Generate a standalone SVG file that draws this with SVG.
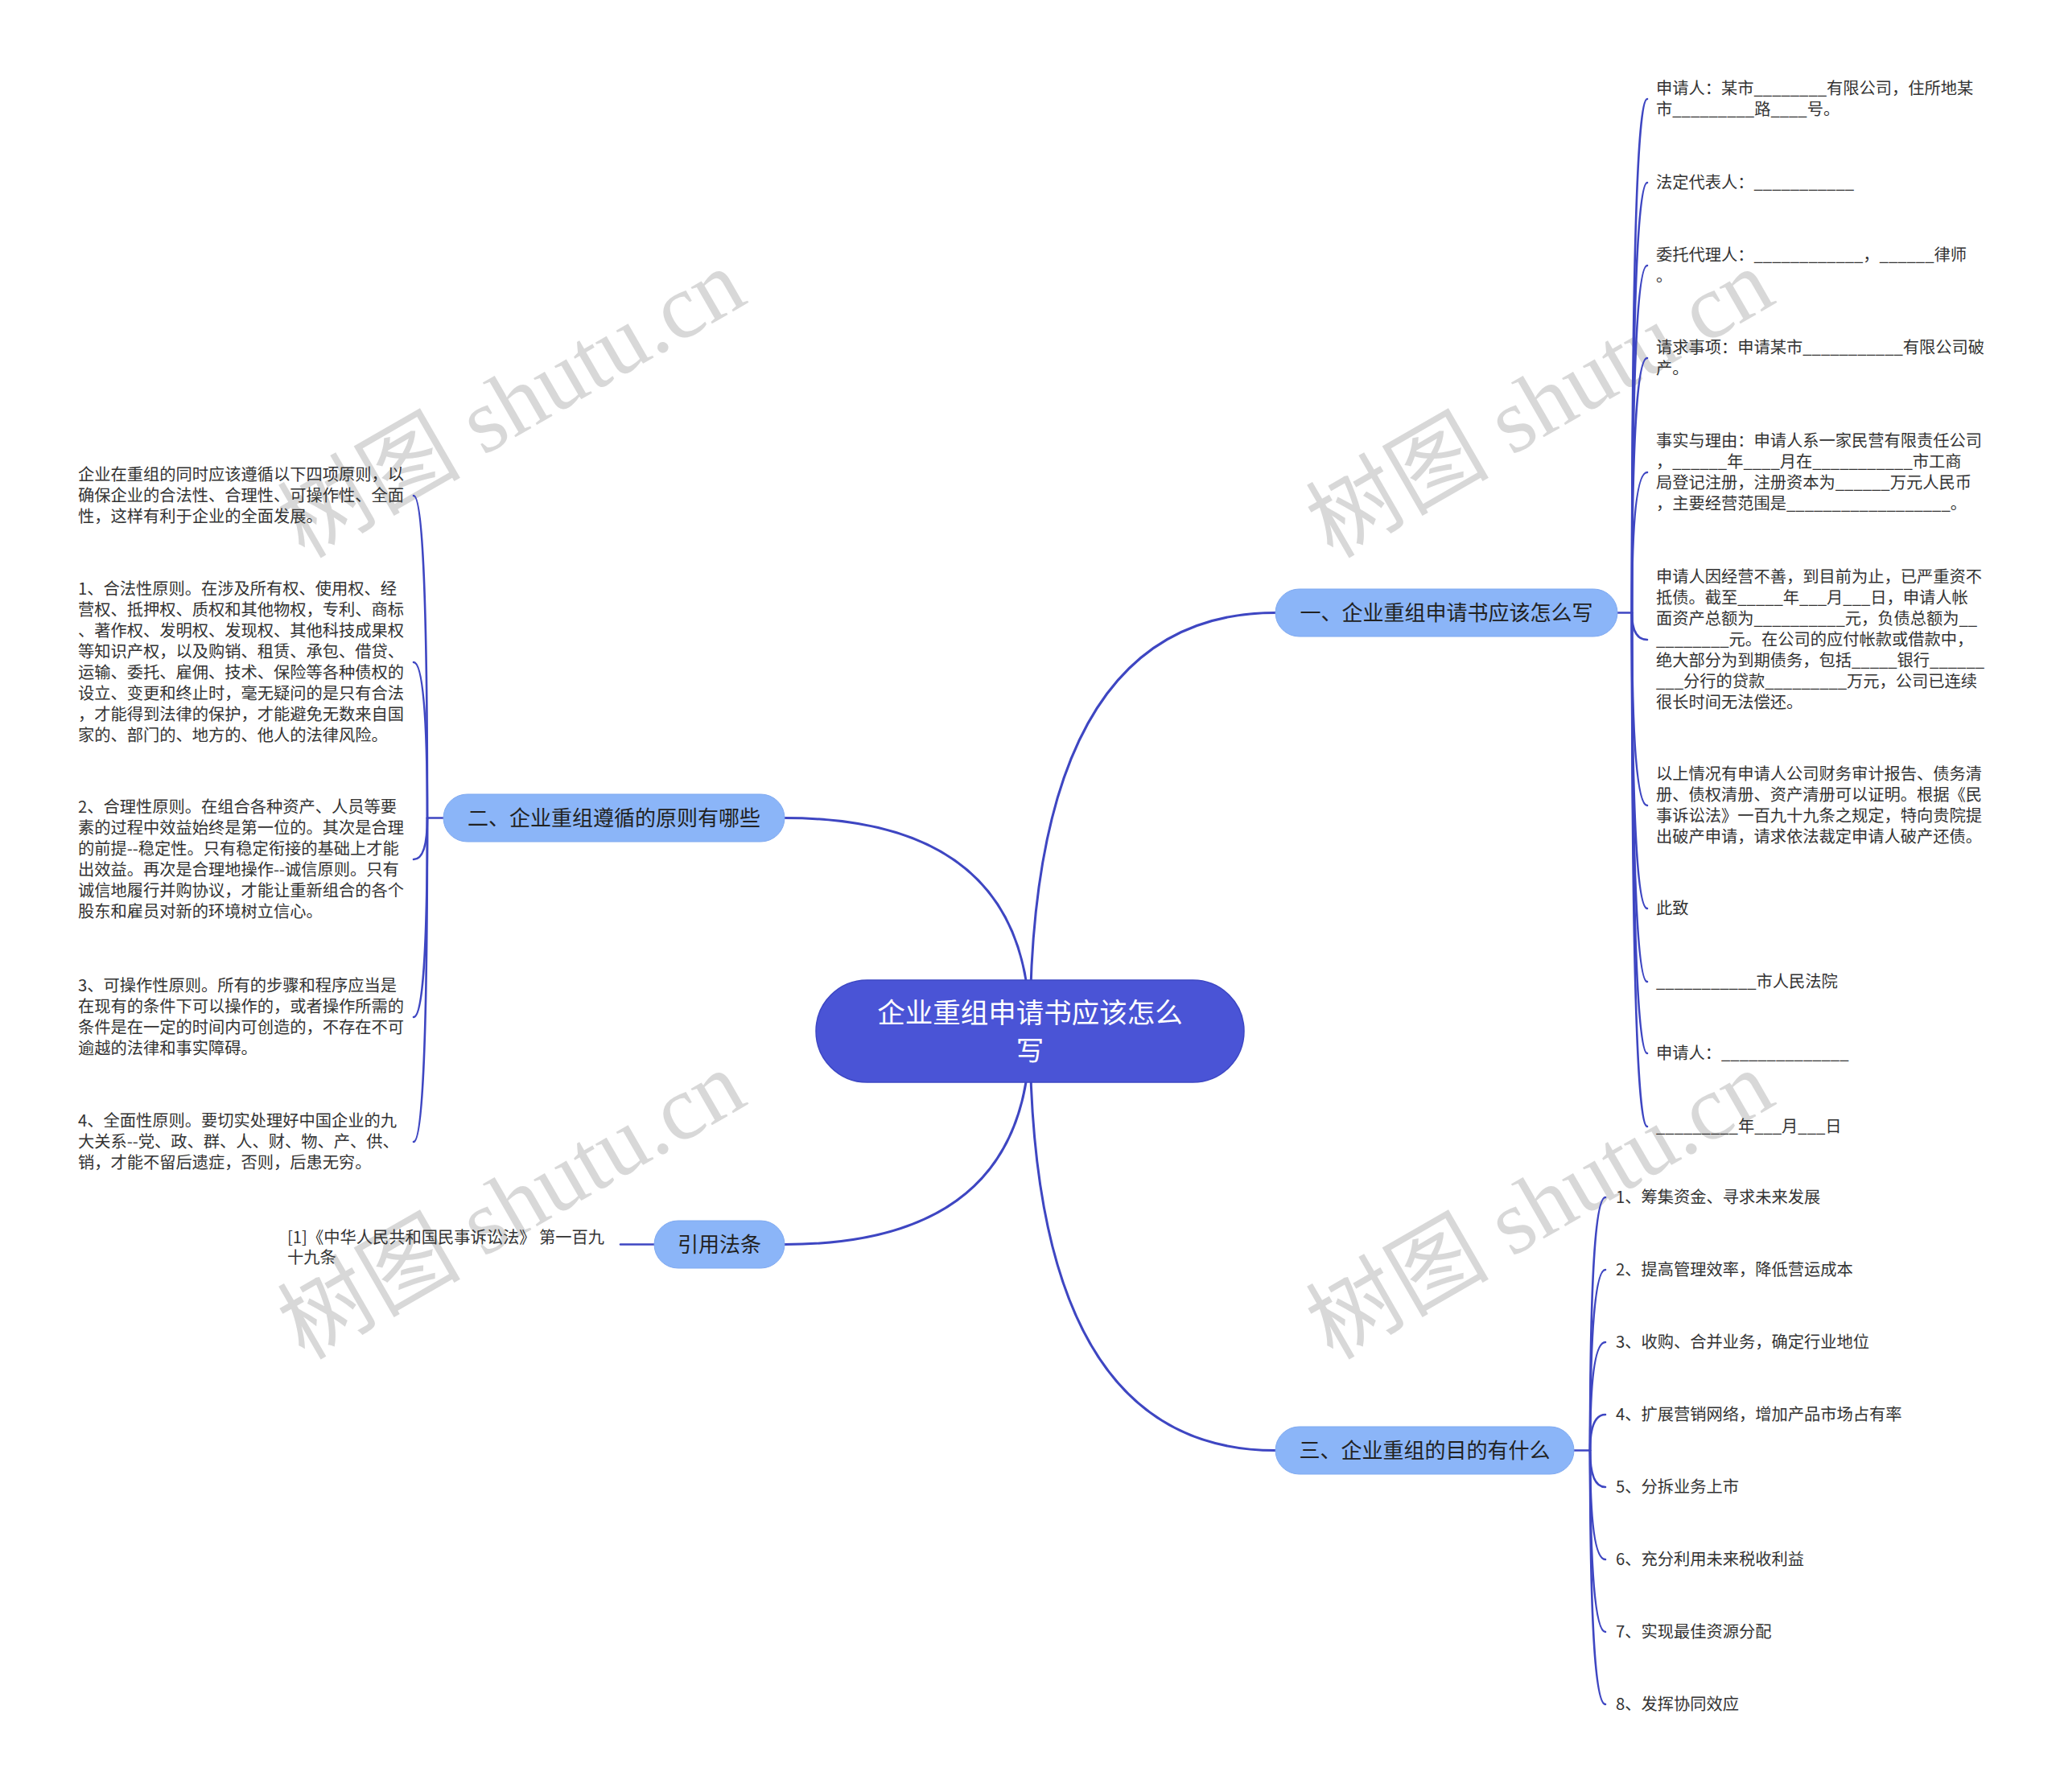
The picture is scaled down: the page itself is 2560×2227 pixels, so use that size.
<svg xmlns="http://www.w3.org/2000/svg" width="2560" height="2227" viewBox="0 0 2560 2227">
<style>
  .wm { font-family: "Liberation Serif", "Noto Sans CJK SC", serif; font-size: 114px; fill: #cccccc; opacity: 0.75; }
  .conn { fill: none; stroke: #3e46c2; stroke-width: 3; stroke-linecap: round; }
  .leafc { fill: none; stroke: #3e46c2; stroke-width: 2.6; stroke-linecap: round; }
  .root { fill: #4a54d6; stroke: #3d47c4; stroke-width: 1.5; }
  .branch { fill: #8bb5f8; stroke: #7fa9f0; stroke-width: 1; }
  .rt { font-family: "Noto Sans CJK SC", "Microsoft YaHei", sans-serif; font-size: 34.5px; fill: #ffffff; text-anchor: middle; }
  .bt { font-family: "Noto Sans CJK SC", "Microsoft YaHei", sans-serif; font-size: 26px; fill: #222222; text-anchor: middle; }
  .lt { font-family: "Noto Sans CJK SC", "Microsoft YaHei", sans-serif; font-size: 20.25px; fill: #333333; }
</style>
<rect x="0" y="0" width="2560" height="2227" fill="#ffffff"/>

<g id="watermarks">
  <text class="wm" x="655" y="535" text-anchor="middle" transform="rotate(-30 655 535)">树图 shutu.cn</text>
  <text class="wm" x="1933" y="535" text-anchor="middle" transform="rotate(-30 1933 535)">树图 shutu.cn</text>
  <text class="wm" x="655" y="1531" text-anchor="middle" transform="rotate(-30 655 1531)">树图 shutu.cn</text>
  <text class="wm" x="1933" y="1531" text-anchor="middle" transform="rotate(-30 1933 1531)">树图 shutu.cn</text>
</g>

<g id="connectors">
  <path class="conn" d="M1280 1281.5 Q1280 761.5 1585 761.5"/>
  <path class="conn" d="M1280 1281.5 Q1280 1016.5 975 1016.5"/>
  <path class="conn" d="M1280 1281.5 Q1280 1546.5 975 1546.5"/>
  <path class="conn" d="M1280 1281.5 Q1280 1802.5 1585 1802.5"/>
  <!-- branch 1 -->
  <path class="leafc" d="M2010 761.5 L2028 761.5"/>
  <path class="leafc" d="M2028 761.5 Q2028 123 2047 123"/>
  <path class="leafc" d="M2028 761.5 Q2028 227 2047 227"/>
  <path class="leafc" d="M2028 761.5 Q2028 330 2047 330"/>
  <path class="leafc" d="M2028 761.5 Q2028 445 2047 445"/>
  <path class="leafc" d="M2028 761.5 Q2028 587 2047 587"/>
  <path class="leafc" d="M2028 761.5 Q2028 795 2047 795"/>
  <path class="leafc" d="M2028 761.5 Q2028 1001 2047 1001"/>
  <path class="leafc" d="M2028 761.5 Q2028 1129 2047 1129"/>
  <path class="leafc" d="M2028 761.5 Q2028 1220 2047 1220"/>
  <path class="leafc" d="M2028 761.5 Q2028 1309 2047 1309"/>
  <path class="leafc" d="M2028 761.5 Q2028 1400 2047 1400"/>
  <!-- branch 2 -->
  <path class="leafc" d="M551 1016.5 L531 1016.5"/>
  <path class="leafc" d="M531 1016.5 Q531 616 514 616"/>
  <path class="leafc" d="M531 1016.5 Q531 823 514 823"/>
  <path class="leafc" d="M531 1016.5 Q531 1068 514 1068"/>
  <path class="leafc" d="M531 1016.5 Q531 1264 514 1264"/>
  <path class="leafc" d="M531 1016.5 Q531 1419 514 1419"/>
  <!-- citation -->
  <path class="leafc" d="M813 1546.5 L771 1546.5"/>
  <!-- branch 3 -->
  <path class="leafc" d="M1956 1802.5 L1976 1802.5"/>
  <path class="leafc" d="M1976 1802.5 Q1976 1488 1995 1488"/>
  <path class="leafc" d="M1976 1802.5 Q1976 1578 1995 1578"/>
  <path class="leafc" d="M1976 1802.5 Q1976 1668 1995 1668"/>
  <path class="leafc" d="M1976 1802.5 Q1976 1758 1995 1758"/>
  <path class="leafc" d="M1976 1802.5 Q1976 1848 1995 1848"/>
  <path class="leafc" d="M1976 1802.5 Q1976 1938 1995 1938"/>
  <path class="leafc" d="M1976 1802.5 Q1976 2028 1995 2028"/>
  <path class="leafc" d="M1976 1802.5 Q1976 2118 1995 2118"/>
</g>

<g id="root">
  <rect class="root" x="1014" y="1218" width="532" height="127" rx="63.5"/>
  <text class="rt"><tspan x="1280" y="1271">企业重组申请书应该怎么</tspan><tspan x="1280" y="1318">写</tspan></text>
</g>

<g id="branch-1">
  <rect class="branch" x="1585" y="732" width="425" height="59" rx="29.5"/>
  <text class="bt" x="1797.5" y="771">一、企业重组申请书应该怎么写</text>
</g>
<g id="branch-2">
  <rect class="branch" x="551" y="987" width="424" height="59" rx="29.5"/>
  <text class="bt" x="763" y="1026">二、企业重组遵循的原则有哪些</text>
</g>
<g id="branch-cite">
  <rect class="branch" x="813" y="1517" width="162" height="59" rx="29.5"/>
  <text class="bt" x="894" y="1556">引用法条</text>
</g>
<g id="branch-3">
  <rect class="branch" x="1585" y="1773" width="371" height="59" rx="29.5"/>
  <text class="bt" x="1770.5" y="1812">三、企业重组的目的有什么</text>
</g>

<g id="leaf-1-1"><text class="lt"><tspan x="2058" y="117">申请人：某市________有限公司，住所地某</tspan><tspan x="2058" y="143">市_________路____号。</tspan></text></g>
<g id="leaf-1-2"><text class="lt"><tspan x="2058" y="234">法定代表人：___________</tspan></text></g>
<g id="leaf-1-3"><text class="lt"><tspan x="2058" y="324">委托代理人：____________，______律师</tspan><tspan x="2058" y="350">。</tspan></text></g>
<g id="leaf-1-4"><text class="lt"><tspan x="2058" y="439">请求事项：申请某市___________有限公司破</tspan><tspan x="2058" y="465">产。</tspan></text></g>
<g id="leaf-1-5"><text class="lt"><tspan x="2058" y="555">事实与理由：申请人系一家民营有限责任公司</tspan><tspan x="2058" y="581">，______年____月在___________市工商</tspan><tspan x="2058" y="607">局登记注册，注册资本为______万元人民币</tspan><tspan x="2058" y="633">，主要经营范围是__________________。</tspan></text></g>
<g id="leaf-1-6"><text class="lt"><tspan x="2058" y="724">申请人因经营不善，到目前为止，已严重资不</tspan><tspan x="2058" y="750">抵债。截至_____年___月___日，申请人帐</tspan><tspan x="2058" y="776">面资产总额为__________元，负债总额为__</tspan><tspan x="2058" y="802">________元。在公司的应付帐款或借款中，</tspan><tspan x="2058" y="828">绝大部分为到期债务，包括_____银行______</tspan><tspan x="2058" y="854">___分行的贷款_________万元，公司已连续</tspan><tspan x="2058" y="880">很长时间无法偿还。</tspan></text></g>
<g id="leaf-1-7"><text class="lt"><tspan x="2058" y="969">以上情况有申请人公司财务审计报告、债务清</tspan><tspan x="2058" y="995">册、债权清册、资产清册可以证明。根据《民</tspan><tspan x="2058" y="1021">事诉讼法》一百九十九条之规定，特向贵院提</tspan><tspan x="2058" y="1047">出破产申请，请求依法裁定申请人破产还债。</tspan></text></g>
<g id="leaf-1-8"><text class="lt" x="2058" y="1136">此致</text></g>
<g id="leaf-1-9"><text class="lt" x="2058" y="1227">___________市人民法院</text></g>
<g id="leaf-1-10"><text class="lt" x="2058" y="1316">申请人：______________</text></g>
<g id="leaf-1-11"><text class="lt" x="2058" y="1407">_________年___月___日</text></g>

<g id="leaf-2-0"><text class="lt"><tspan x="97" y="597">企业在重组的同时应该遵循以下四项原则，以</tspan><tspan x="97" y="623">确保企业的合法性、合理性、可操作性、全面</tspan><tspan x="97" y="649">性，这样有利于企业的全面发展。</tspan></text></g>
<g id="leaf-2-1"><text class="lt"><tspan x="97" y="739">1、合法性原则。在涉及所有权、使用权、经</tspan><tspan x="97" y="765">营权、抵押权、质权和其他物权，专利、商标</tspan><tspan x="97" y="791">、著作权、发明权、发现权、其他科技成果权</tspan><tspan x="97" y="817">等知识产权，以及购销、租赁、承包、借贷、</tspan><tspan x="97" y="843">运输、委托、雇佣、技术、保险等各种债权的</tspan><tspan x="97" y="869">设立、变更和终止时，毫无疑问的是只有合法</tspan><tspan x="97" y="895">，才能得到法律的保护，才能避免无数来自国</tspan><tspan x="97" y="921">家的、部门的、地方的、他人的法律风险。</tspan></text></g>
<g id="leaf-2-2"><text class="lt"><tspan x="97" y="1010">2、合理性原则。在组合各种资产、人员等要</tspan><tspan x="97" y="1036">素的过程中效益始终是第一位的。其次是合理</tspan><tspan x="97" y="1062">的前提--稳定性。只有稳定衔接的基础上才能</tspan><tspan x="97" y="1088">出效益。再次是合理地操作--诚信原则。只有</tspan><tspan x="97" y="1114">诚信地履行并购协议，才能让重新组合的各个</tspan><tspan x="97" y="1140">股东和雇员对新的环境树立信心。</tspan></text></g>
<g id="leaf-2-3"><text class="lt"><tspan x="97" y="1232">3、可操作性原则。所有的步骤和程序应当是</tspan><tspan x="97" y="1258">在现有的条件下可以操作的，或者操作所需的</tspan><tspan x="97" y="1284">条件是在一定的时间内可创造的，不存在不可</tspan><tspan x="97" y="1310">逾越的法律和事实障碍。</tspan></text></g>
<g id="leaf-2-4"><text class="lt"><tspan x="97" y="1400">4、全面性原则。要切实处理好中国企业的九</tspan><tspan x="97" y="1426">大关系--党、政、群、人、财、物、产、供、</tspan><tspan x="97" y="1452">销，才能不留后遗症，否则，后患无穷。</tspan></text></g>

<g id="leaf-cite"><text class="lt"><tspan x="357" y="1545">[1]《中华人民共和国民事诉讼法》 第一百九</tspan><tspan x="357" y="1570">十九条</tspan></text></g>

<g id="leaf-3-1"><text class="lt" x="2008" y="1495">1、筹集资金、寻求未来发展</text></g>
<g id="leaf-3-2"><text class="lt" x="2008" y="1585">2、提高管理效率，降低营运成本</text></g>
<g id="leaf-3-3"><text class="lt" x="2008" y="1675">3、收购、合并业务，确定行业地位</text></g>
<g id="leaf-3-4"><text class="lt" x="2008" y="1765">4、扩展营销网络，增加产品市场占有率</text></g>
<g id="leaf-3-5"><text class="lt" x="2008" y="1855">5、分拆业务上市</text></g>
<g id="leaf-3-6"><text class="lt" x="2008" y="1945">6、充分利用未来税收利益</text></g>
<g id="leaf-3-7"><text class="lt" x="2008" y="2035">7、实现最佳资源分配</text></g>
<g id="leaf-3-8"><text class="lt" x="2008" y="2125">8、发挥协同效应</text></g>
</svg>
